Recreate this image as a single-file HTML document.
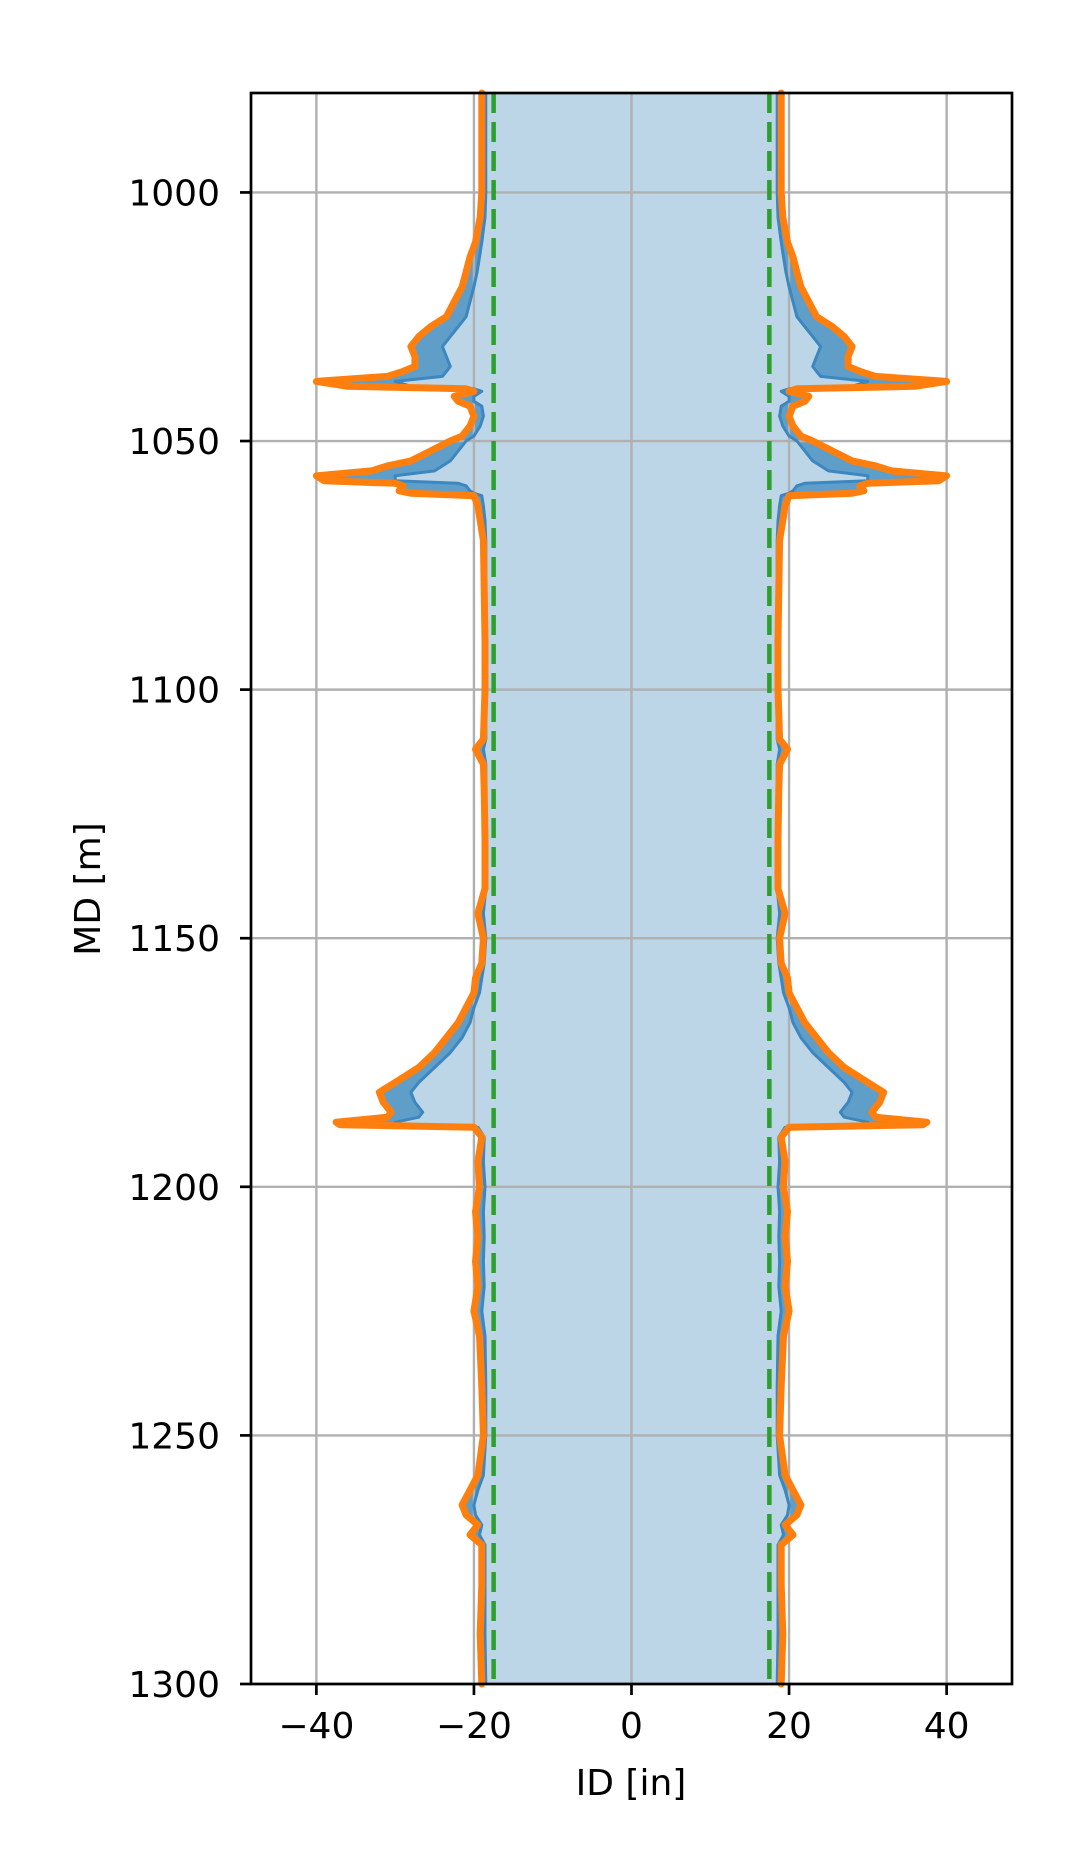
<!DOCTYPE html>
<html><head><meta charset="utf-8"><style>
body{margin:0;background:#fff}
svg text{font-family:"DejaVu Sans","Liberation Sans",sans-serif;font-size:36px;fill:#000}
</style></head><body>
<svg id="chart" width="1083" height="1863" viewBox="0 0 1083 1863" xmlns="http://www.w3.org/2000/svg">
<rect width="1083" height="1863" fill="#fff"/>
<g id="fills"></g><g id="grid"></g><g id="lines"></g><g id="axes"></g>
</svg>
<script>
const depths=[980,1000,1005,1010,1013,1016,1019,1022,1025,1027,
1029,1031,1033,1035,1036,1037,1038,1039,1039.5,1040,
1041,1042,1043,1045,1047,1049,1050,1052,1054,1055,
1056,1057,1058,1058.5,1059,1060,1060.5,1061,1063,1066,
1070,1080,1090,1100,1110,1112,1115,1120,1130,1140,
1145,1150,1155,1158,1161,1164,1167,1170,1173,1176,
1179,1181,1183,1185,1186,1187,1187.5,1188,1190,1195,
1200,1205,1210,1215,1220,1225,1230,1240,1250,1258,
1261,1264,1266,1268,1270,1272,1280,1290,1300];
const outerRadius=[19,19,19.2,19.8,20.5,21,21.5,22.5,23.5,25.5,
27,28,27.5,27.5,29,31,40,36,21,20,
22.5,22,20.5,20,20.5,21.5,23,25.5,28,31,
33,40,39,30,29,29.5,28,20,19.5,19.2,
18.8,18.7,18.6,18.6,18.8,19.8,18.8,18.7,18.6,18.6,
19.5,18.8,19,19.8,20,21,22,23.5,25,27,
30,32,31.5,30.5,31,37.5,37,20,19,19.5,
19.3,19.8,19.5,19.8,19.5,20,19.3,19,18.8,19.5,
20.5,21.5,21,19.5,20.5,19,19,19.2,19];
const innerRadius=[18.5,18.5,18.6,19,19.3,19.6,20,20.5,21,22,
23,24,23.5,23,23.5,24,30,28,20,19,
20,20,19,18.8,19.2,20,21,22,23,24,
25,30,30,22,21,20.5,20,19,18.8,18.6,
18.5,18.5,18.5,18.5,18.5,18.8,18.5,18.5,18.5,18.5,
18.8,18.5,18.7,19,19.3,20,20.5,21.5,23,25,
27,28,27.5,26.5,27,30,29,19.5,18.7,18.8,
18.6,18.8,18.7,18.8,18.7,19,18.6,18.5,18.5,18.8,
19.5,20,19.8,19,19.3,18.6,18.6,18.6,18.5];
const nominalRadius=[17.5];
const xTicks=[-40,-20,0,20,40];
const yTicks=[1000,1050,1100,1150,1200,1250,1300];

const L=251,R=1012,T=93,B=1684,X0=-48.3,X1=48.3,Y0=980,Y1=1300;
const sx=v=>L+(v-X0)/(X1-X0)*(R-L);
const sy=v=>T+(v-Y0)/(Y1-Y0)*(B-T);
const NS="http://www.w3.org/2000/svg";
function mk(tag,parent,attrs){const e=document.createElementNS(NS,tag);for(const k in attrs)e.setAttribute(k,attrs[k]);document.getElementById(parent).appendChild(e);return e;}
function pts(sign,arr){return depths.map((d,i)=>sx(sign*arr[i]).toFixed(1)+","+sy(d).toFixed(1));}
let p=mk("polygon","fills",{points:pts(-1,innerRadius).concat(pts(1,innerRadius).reverse()).join(" "),fill:"#bcd6e8"});


[-1,1].forEach(s=>{
 const e=mk("polygon","fills",{points:pts(s,innerRadius).concat(pts(s,outerRadius).reverse()).join(" "),fill:"#5f9ec9"});
 
 
});
xTicks.forEach(t=>{const e=mk("line","grid",{x1:sx(t),x2:sx(t),y1:T,y2:B,stroke:"#b0b0b0","stroke-width":2.4});
 
 });
yTicks.forEach(t=>{const e=mk("line","grid",{x1:L,x2:R,y1:sy(t),y2:sy(t),stroke:"#b0b0b0","stroke-width":2.4});
 
 });
[-1,1].forEach(s=>{
 const b=mk("polyline","lines",{points:pts(s,innerRadius).join(" "),fill:"none",stroke:"#3d87c0","stroke-width":3,"stroke-linejoin":"round"});
 
 
 const o=mk("polyline","lines",{points:pts(s,outerRadius).join(" "),fill:"none",stroke:"#ff7f0e","stroke-width":7,"stroke-linejoin":"round","stroke-linecap":"round"});
 
 
 const g=mk("line","lines",{x1:sx(s*nominalRadius[0]),x2:sx(s*nominalRadius[0]),y1:T,y2:B,stroke:"#2ca02c","stroke-width":4.5,"stroke-dasharray":"20 9"});
 
 
});
let fr=mk("rect","axes",{x:L,y:T,width:R-L,height:B-T,fill:"none",stroke:"#000","stroke-width":2.7});


xTicks.forEach(t=>{
 const l=mk("line","axes",{x1:sx(t),x2:sx(t),y1:B,y2:B+11,stroke:"#000","stroke-width":2.7});
 
 
 const tx=mk("text","axes",{x:sx(t),y:1738,"text-anchor":"middle"});
 tx.textContent=(t<0?"\u2212"+(-t):t);
 
 
});
yTicks.forEach(t=>{
 const l=mk("line","axes",{x1:L-11,x2:L,y1:sy(t),y2:sy(t),stroke:"#000","stroke-width":2.7});
 
 
 const tx=mk("text","axes",{x:220,y:sy(t)+13,"text-anchor":"end"});
 tx.textContent=t;
 
 
});
let xl=mk("text","axes",{x:631,y:1795,"text-anchor":"middle"});
xl.textContent="ID [in]";


let yl=mk("text","axes",{x:0,y:0,"text-anchor":"middle",transform:"translate(100,889) rotate(-90)"});
yl.textContent="MD [m]";


</script>
</body></html>
